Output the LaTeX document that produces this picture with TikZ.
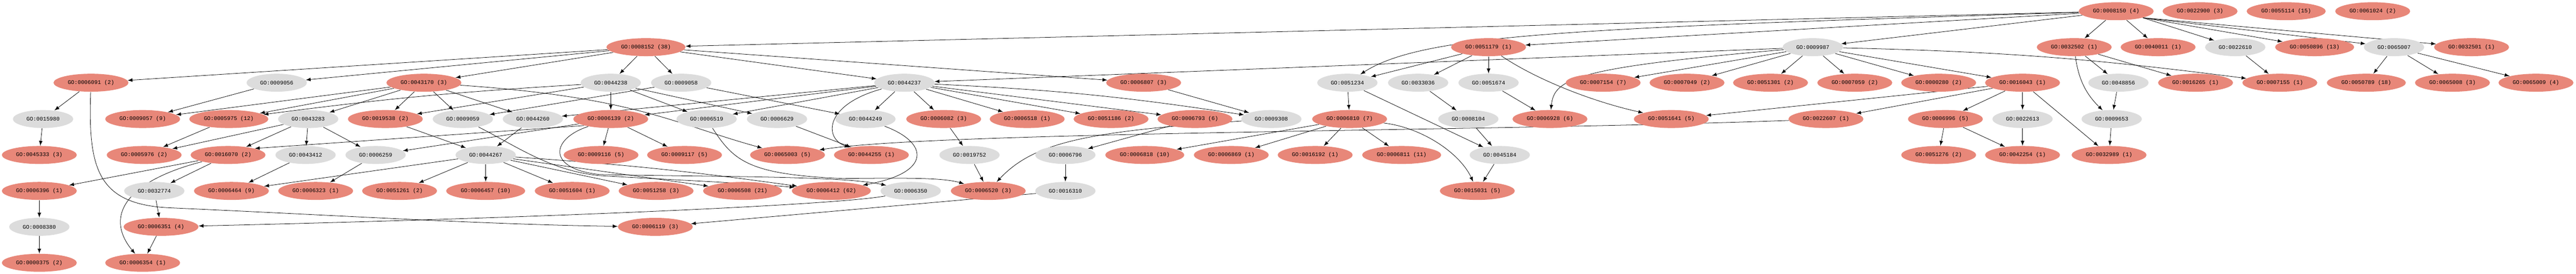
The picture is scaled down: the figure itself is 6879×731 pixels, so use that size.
\documentclass[tikz,border=0pt]{standalone}
\usepackage{fontspec}
\usepackage{xcolor}
\usepackage{tikz}
\usetikzlibrary{shapes.geometric}
\newfontfamily\gomono{Liberation Mono}
\definecolor{goRed}{RGB}{232,135,121}
\definecolor{goGrey}{RGB}{220,220,220}
\pgfdeclarelayer{background}
\pgfsetlayers{background,main}

\begin{document}
\begin{tikzpicture}[x=0.01cm, y=0.01cm,
    goterm/.style={ellipse, inner sep=0pt, minimum height=0.48cm, font=\gomono\fontsize{4.2}{5}\selectfont},
    gohit/.style={goterm, fill=goRed, minimum width=2cm},
    gohitw/.style={goterm, fill=goRed, minimum width=2.11cm},
    goanc/.style={goterm, fill=goGrey, minimum width=1.61cm},
    gopath/.style={-latex, line width=0.3pt}]
    \useasboundingbox (0,0) rectangle (6879,731);
    % row 0
    \node[gohit] (n0008150) at (5651,701) {GO:0008150 (4)};
    \node[gohit] (n0022900) at (5875,701) {GO:0022900 (3)};
    \node[gohitw] (n0055114) at (6105,701) {GO:0055114 (15)};
    \node[gohit] (n0061024) at (6336,701) {GO:0061024 (2)};
    % row 1
    \node[gohitw] (n0008152) at (1725,605) {GO:0008152 (38)};
    \node[gohit] (n0051179) at (3975,605) {GO:0051179 (1)};
    \node[goanc] (n0009987) at (4841,605) {GO:0009987};
    \node[gohit] (n0032502) at (5539,605) {GO:0032502 (1)};
    \node[gohit] (n0040011) at (5763,605) {GO:0040011 (1)};
    \node[goanc] (n0022610) at (5969,605) {GO:0022610};
    \node[gohitw] (n0050896) at (6181,605) {GO:0050896 (13)};
    \node[goanc] (n0065007) at (6393,605) {GO:0065007};
    \node[gohit] (n0032501) at (6600,605) {GO:0032501 (1)};
    % row 2
    \node[gohit] (n0006091) at (243,510) {GO:0006091 (2)};
    \node[goanc] (n0009056) at (739,510) {GO:0009056};
    \node[gohit] (n0043170) at (1132,510) {GO:0043170 (3)};
    \node[goanc] (n0044238) at (1631,510) {GO:0044238};
    \node[goanc] (n0009058) at (1819,510) {GO:0009058};
    \node[goanc] (n0044237) at (2415,510) {GO:0044237};
    \node[gohit] (n0006807) at (3054,510) {GO:0006807 (3)};
    \node[goanc] (n0051234) at (3598,510) {GO:0051234};
    \node[goanc] (n0033036) at (3787,510) {GO:0033036};
    \node[goanc] (n0051674) at (3975,510) {GO:0051674};
    \node[gohit] (n0007154) at (4281,510) {GO:0007154 (7)};
    \node[gohit] (n0007049) at (4505,510) {GO:0007049 (2)};
    \node[gohit] (n0051301) at (4728,510) {GO:0051301 (2)};
    \node[gohit] (n0007059) at (4953,510) {GO:0007059 (2)};
    \node[gohit] (n0000280) at (5177,510) {GO:0000280 (2)};
    \node[gohit] (n0016043) at (5401,510) {GO:0016043 (1)};
    \node[goanc] (n0048856) at (5657,510) {GO:0048856};
    \node[gohit] (n0016265) at (5863,510) {GO:0016265 (1)};
    \node[gohit] (n0007155) at (6088,510) {GO:0007155 (1)};
    \node[gohitw] (n0050789) at (6319,510) {GO:0050789 (18)};
    \node[gohit] (n0065008) at (6549,510) {GO:0065008 (3)};
    \node[gohit] (n0065009) at (6772,510) {GO:0065009 (4)};
    % row 3
    \node[goanc] (n0015980) at (115,413) {GO:0015980};
    \node[gohit] (n0009057) at (381,413) {GO:0009057 (9)};
    \node[gohitw] (n0005975) at (611,413) {GO:0005975 (12)};
    \node[goanc] (n0043283) at (823,413) {GO:0043283};
    \node[gohit] (n0019538) at (1029,413) {GO:0019538 (2)};
    \node[goanc] (n0009059) at (1236,413) {GO:0009059};
    \node[goanc] (n0044260) at (1423,413) {GO:0044260};
    \node[gohit] (n0006139) at (1631,413) {GO:0006139 (2)};
    \node[goanc] (n0006519) at (1887,413) {GO:0006519};
    \node[goanc] (n0006629) at (2075,413) {GO:0006629};
    \node[goanc] (n0044249) at (2311,413) {GO:0044249};
    \node[gohit] (n0006082) at (2520,413) {GO:0006082 (3)};
    \node[gohit] (n0006518) at (2743,413) {GO:0006518 (1)};
    \node[gohit] (n0051186) at (2967,413) {GO:0051186 (2)};
    \node[gohit] (n0006793) at (3191,413) {GO:0006793 (6)};
    \node[goanc] (n0009308) at (3395,413) {GO:0009308};
    \node[gohit] (n0006810) at (3604,413) {GO:0006810 (7)};
    \node[goanc] (n0008104) at (3921,413) {GO:0008104};
    \node[gohit] (n0006928) at (4139,413) {GO:0006928 (6)};
    \node[gohit] (n0051641) at (4463,413) {GO:0051641 (5)};
    \node[gohit] (n0022607) at (4876,413) {GO:0022607 (1)};
    \node[gohit] (n0006996) at (5195,413) {GO:0006996 (5)};
    \node[goanc] (n0022613) at (5401,413) {GO:0022613};
    \node[goanc] (n0009653) at (5639,413) {GO:0009653};
    % row 4
    \node[gohit] (n0045333) at (105,317) {GO:0045333 (3)};
    \node[gohit] (n0005976) at (385,317) {GO:0005976 (2)};
    \node[gohit] (n0016070) at (609,317) {GO:0016070 (2)};
    \node[goanc] (n0043412) at (816,317) {GO:0043412};
    \node[goanc] (n0006259) at (1003,317) {GO:0006259};
    \node[goanc] (n0044267) at (1297,317) {GO:0044267};
    \node[gohit] (n0009116) at (1605,317) {GO:0009116 (5)};
    \node[gohit] (n0009117) at (1828,317) {GO:0009117 (5)};
    \node[gohit] (n0065003) at (2103,317) {GO:0065003 (5)};
    \node[gohit] (n0044255) at (2327,317) {GO:0044255 (1)};
    \node[goanc] (n0019752) at (2589,317) {GO:0019752};
    \node[goanc] (n0006796) at (2845,317) {GO:0006796};
    \node[gohitw] (n0006818) at (3057,317) {GO:0006818 (10)};
    \node[gohit] (n0006869) at (3288,317) {GO:0006869 (1)};
    \node[gohit] (n0016192) at (3512,317) {GO:0016192 (1)};
    \node[gohitw] (n0006811) at (3743,317) {GO:0006811 (11)};
    \node[goanc] (n0045184) at (4005,317) {GO:0045184};
    \node[gohit] (n0051276) at (5177,317) {GO:0051276 (2)};
    \node[gohit] (n0042254) at (5401,317) {GO:0042254 (1)};
    \node[gohit] (n0032989) at (5632,317) {GO:0032989 (1)};
    % row 5
    \node[gohit] (n0006396) at (105,221) {GO:0006396 (1)};
    \node[goanc] (n0032774) at (412,221) {GO:0032774};
    \node[gohit] (n0006464) at (618,221) {GO:0006464 (9)};
    \node[gohit] (n0006323) at (843,221) {GO:0006323 (1)};
    \node[gohit] (n0051261) at (1067,221) {GO:0051261 (2)};
    \node[gohitw] (n0006457) at (1297,221) {GO:0006457 (10)};
    \node[gohit] (n0051604) at (1528,221) {GO:0051604 (1)};
    \node[gohit] (n0051258) at (1752,221) {GO:0051258 (3)};
    \node[gohitw] (n0006508) at (1983,221) {GO:0006508 (21)};
    \node[gohitw] (n0006412) at (2220,221) {GO:0006412 (62)};
    \node[goanc] (n0006350) at (2432,221) {GO:0006350};
    \node[gohit] (n0006520) at (2639,221) {GO:0006520 (3)};
    \node[goanc] (n0016310) at (2845,221) {GO:0016310};
    \node[gohit] (n0015031) at (3945,221) {GO:0015031 (5)};
    % rows 6 and 7
    \node[goanc] (n0008380) at (105,125) {GO:0008380};
    \node[gohit] (n0006351) at (430,125) {GO:0006351 (4)};
    \node[gohit] (n0006119) at (1750,125) {GO:0006119 (3)};
    \node[gohit] (n0000375) at (105,29) {GO:0000375 (2)};
    \node[gohit] (n0006354) at (381,29) {GO:0006354 (1)};

    % links
    \begin{pgfonlayer}{background}
    \draw[gopath] (n0008150) -- (n0008152);
    \draw[gopath] (n0008150) .. controls (4200,656) and (3800,640) .. (n0051234);
    \draw[gopath] (n0008150) -- (n0051179);
    \draw[gopath] (n0008150) -- (n0009987);
    \draw[gopath] (n0008150) -- (n0032502);
    \draw[gopath] (n0008150) -- (n0040011);
    \draw[gopath] (n0008150.south east) -- (n0022610);
    \draw[gopath] (n0008150.south east) -- (n0050896);
    \draw[gopath] (n0008150.south east) -- (n0065007);
    \draw[gopath] (n0008150.south east) -- (n0032501);
    \draw[gopath] (n0008152) -- (n0006091);
    \draw[gopath] (n0008152) -- (n0009056);
    \draw[gopath] (n0008152) -- (n0043170);
    \draw[gopath] (n0008152) -- (n0044238);
    \draw[gopath] (n0008152) -- (n0009058);
    \draw[gopath] (n0008152) -- (n0044237);
    \draw[gopath] (n0008152) -- (n0006807);
    \draw[gopath] (n0043170) -- (n0009057);
    \draw[gopath] (n0043170) -- (n0005975);
    \draw[gopath] (n0043170) -- (n0043283);
    \draw[gopath] (n0043170) -- (n0019538);
    \draw[gopath] (n0043170) -- (n0009059);
    \draw[gopath] (n0043170) -- (n0044260);
    \draw[gopath] (n0043170) .. controls (1700,471) and (1800,400) .. (n0065003);
    \draw[gopath] (n0044238) to[bend right=2] (n0005975);
    \draw[gopath] (n0044238) -- (n0019538);
    \draw[gopath] (n0044238) -- (n0006139);
    \draw[gopath] (n0044238) -- (n0006519);
    \draw[gopath] (n0044238) -- (n0006629);
    \draw[gopath] (n0009058) -- (n0009059);
    \draw[gopath] (n0009058) -- (n0044249);
    \draw[gopath] (n0044237) -- (n0044260);
    \draw[gopath] (n0044237) -- (n0006139);
    \draw[gopath] (n0044237) -- (n0006519);
    \draw[gopath] (n0044237) -- (n0044249);
    \draw[gopath] (n0044237) -- (n0006082);
    \draw[gopath] (n0044237) -- (n0006518);
    \draw[gopath] (n0044237) -- (n0051186);
    \draw[gopath] (n0044237) -- (n0006793);
    \draw[gopath] (n0044237) to[bend left=3] (n0009308);
    \draw[gopath] (n0044237) .. controls (2200,451) and (2200,361) .. (n0044255);
    \draw[gopath] (n0006807) -- (n0009308);
    \draw[gopath] (n0009987) -- (n0044237);
    \draw[gopath] (n0009987) .. controls (4200,550) and (4150,520) .. (n0006928);
    \draw[gopath] (n0009987) -- (n0007154);
    \draw[gopath] (n0009987) -- (n0007049);
    \draw[gopath] (n0009987) -- (n0051301);
    \draw[gopath] (n0009987) -- (n0007059);
    \draw[gopath] (n0009987) -- (n0000280);
    \draw[gopath] (n0009987) -- (n0016043);
    \draw[gopath] (n0009987) to[bend left=3] (n0007155);
    \draw[gopath] (n0051179) -- (n0051234);
    \draw[gopath] (n0051179) -- (n0033036);
    \draw[gopath] (n0051179) -- (n0051674);
    \draw[gopath] (n0051179) .. controls (4100,520) and (4250,460) .. (n0051641);
    \draw[gopath] (n0032502) -- (n0048856);
    \draw[gopath] (n0032502) .. controls (5550,520) and (5570,480) .. (n0009653);
    \draw[gopath] (n0032502) -- (n0016265);
    \draw[gopath] (n0022610) -- (n0007155);
    \draw[gopath] (n0065007) -- (n0050789);
    \draw[gopath] (n0065007) -- (n0065008);
    \draw[gopath] (n0065007) -- (n0065009);
    \draw[gopath] (n0006091) -- (n0015980);
    \draw[gopath] (n0006091) .. controls (235,281) and (260,186) .. (450,176) .. controls (900,156) and (1300,131) .. (n0006119);
    \draw[gopath] (n0015980) -- (n0045333);
    \draw[gopath] (n0009056) -- (n0009057);
    \draw[gopath] (n0005975) -- (n0005976);
    \draw[gopath] (n0043283) -- (n0005976);
    \draw[gopath] (n0043283) -- (n0016070);
    \draw[gopath] (n0043283) -- (n0043412);
    \draw[gopath] (n0043283) -- (n0006259);
    \draw[gopath] (n0019538) -- (n0044267);
    \draw[gopath] (n0009059) .. controls (1380,340) and (1470,275) .. (1600,262) .. controls (1800,250) and (2000,242) .. (n0006412);
    \draw[gopath] (n0044260) -- (n0044267);
    \draw[gopath] (n0006139.south west) -- (n0016070.north east);
    \draw[gopath] (n0006139) -- (n0006259);
    \draw[gopath] (n0006139) -- (n0009116);
    \draw[gopath] (n0006139) -- (n0009117);
    \draw[gopath] (n0006139) .. controls (1470,360) and (1460,280) .. (1600,265) .. controls (1900,258) and (2250,262) .. (n0006350);
    \draw[gopath] (n0006519) .. controls (1960,300) and (2000,265) .. (2250,254) .. controls (2430,256) and (2520,256) .. (n0006520);
    \draw[gopath] (n0006629) -- (n0044255);
    \draw[gopath] (n0044249) .. controls (2480,350) and (2490,270) .. (n0006412);
    \draw[gopath] (n0006082) -- (n0019752);
    \draw[gopath] (n0006793) -- (n0006796);
    \draw[gopath] (n0009308) .. controls (2900,380) and (2760,350) .. (n0006520);
    \draw[gopath] (n0006810) -- (n0006818);
    \draw[gopath] (n0006810) -- (n0006869);
    \draw[gopath] (n0006810) -- (n0016192);
    \draw[gopath] (n0006810) -- (n0006811);
    \draw[gopath] (n0006810) .. controls (3800,390) and (3900,320) .. (n0015031);
    \draw[gopath] (n0051234) -- (n0006810);
    \draw[gopath] (n0051234) -- (n0045184);
    \draw[gopath] (n0033036) -- (n0008104);
    \draw[gopath] (n0051674) -- (n0006928);
    \draw[gopath] (n0008104) -- (n0045184);
    \draw[gopath] (n0022607) .. controls (4000,380) and (2500,380) .. (n0065003);
    \draw[gopath] (n0016043) -- (n0051641);
    \draw[gopath] (n0016043) -- (n0022607);
    \draw[gopath] (n0016043) -- (n0006996);
    \draw[gopath] (n0016043) -- (n0022613);
    \draw[gopath] (n0016043) -- (n0032989);
    \draw[gopath] (n0048856) -- (n0009653);
    \draw[gopath] (n0006996) -- (n0051276);
    \draw[gopath] (n0006996) -- (n0042254);
    \draw[gopath] (n0022613) -- (n0042254);
    \draw[gopath] (n0009653) -- (n0032989);
    \draw[gopath] (n0016070) -- (n0006396);
    \draw[gopath] (n0016070) -- (n0032774);
    \draw[gopath] (n0016070) .. controls (330,245) and (280,150) .. (n0006354);
    \draw[gopath] (n0043412) -- (n0006464);
    \draw[gopath] (n0006259) -- (n0006323);
    \draw[gopath] (n0044267) -- (n0006464);
    \draw[gopath] (n0044267) -- (n0051261);
    \draw[gopath] (n0044267) -- (n0006457);
    \draw[gopath] (n0044267) -- (n0051604);
    \draw[gopath] (n0044267) -- (n0051258);
    \draw[gopath] (n0044267) -- (n0006508);
    \draw[gopath] (n0044267) to[bend left=2] (n0006412);
    \draw[gopath] (n0019752) -- (n0006520);
    \draw[gopath] (n0006796) -- (n0016310);
    \draw[gopath] (n0045184) -- (n0015031);
    \draw[gopath] (n0006396) -- (n0008380);
    \draw[gopath] (n0032774) -- (n0006351);
    \draw[gopath] (n0006350) .. controls (2250,185) and (1500,150) .. (n0006351);
    \draw[gopath] (n0016310) -- (n0006119);
    \draw[gopath] (n0008380) -- (n0000375);
    \draw[gopath] (n0006351) -- (n0006354);
    \end{pgfonlayer}
\end{tikzpicture}
\end{document}
